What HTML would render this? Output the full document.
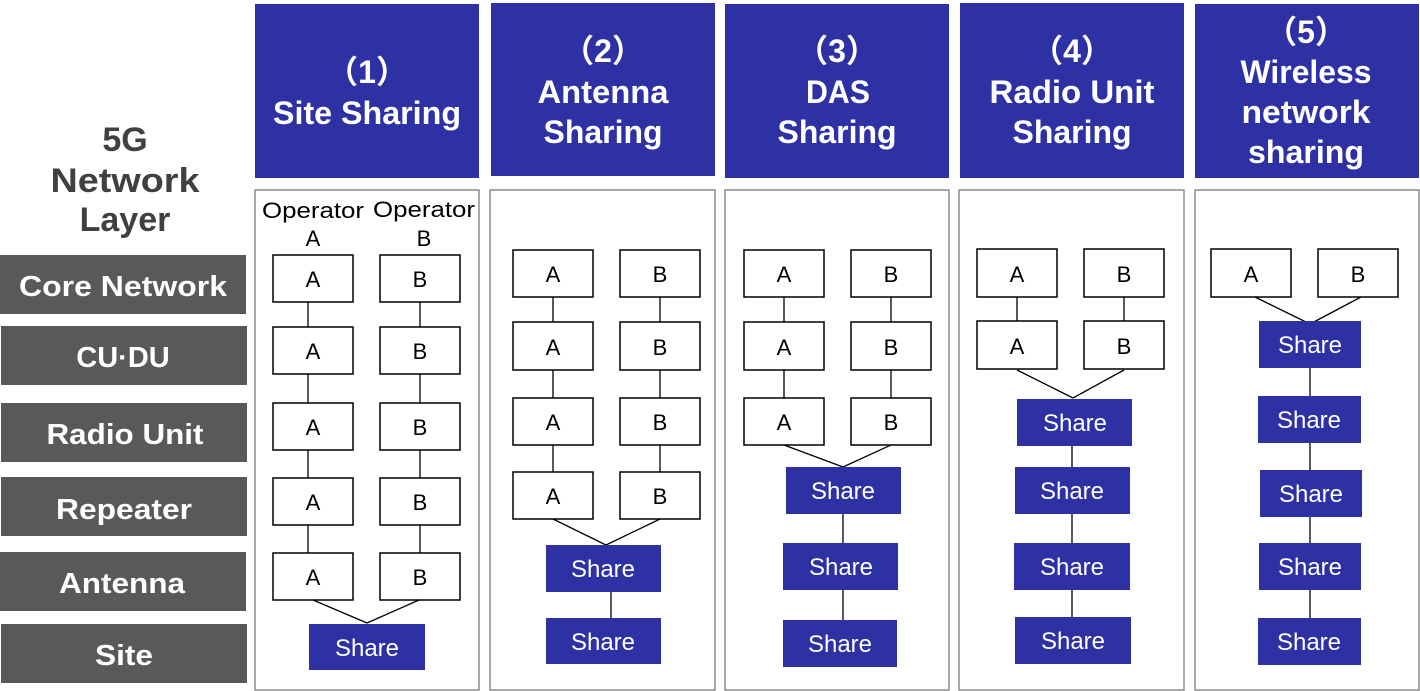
<!DOCTYPE html>
<html><head><meta charset="utf-8"><style>
html,body{margin:0;padding:0;background:#fff;width:1420px;height:691px;overflow:hidden}
svg{display:block}
.h{font-family:"Liberation Sans","Noto Sans CJK JP",sans-serif;font-weight:bold;fill:#fff;font-size:32px;text-anchor:middle}
.l{font-family:"Liberation Sans",sans-serif;font-weight:bold;fill:#fff;font-size:29px;text-anchor:middle}
.t{font-family:"Liberation Sans",sans-serif;fill:#000;font-size:22px;text-anchor:middle}
.s{font-family:"Liberation Sans",sans-serif;fill:#fff;font-size:24px;text-anchor:middle}
.b{fill:#fff;stroke:#000;stroke-width:1.5}
.sh{fill:#2E31A4}
.p{fill:#fff;stroke:#8c8c8c;stroke-width:1.5}
line{stroke:#000;stroke-width:1.3}
</style></head><body>
<svg width="1420" height="691" viewBox="0 0 1420 691" xmlns="http://www.w3.org/2000/svg">
<g font-family="Liberation Sans, sans-serif" font-weight="bold" font-size="34" fill="#404040" text-anchor="middle">
<text x="125" y="151">5G</text><text x="125" y="192" textLength="149" lengthAdjust="spacingAndGlyphs">Network</text><text x="125" y="231">Layer</text>
</g>
<g fill="#595959">
<rect x="0" y="255" width="246" height="59"/><rect x="1" y="326" width="246" height="59"/>
<rect x="1" y="403" width="246" height="59"/><rect x="1" y="477" width="246" height="59"/>
<rect x="0" y="552" width="246" height="59"/><rect x="1" y="624" width="246" height="59"/>
</g>
<text class="l" x="123" y="296" textLength="208" lengthAdjust="spacingAndGlyphs">Core Network</text>
<text class="l" x="123" y="367">CU·DU</text>
<text class="l" x="125" y="444" textLength="157" lengthAdjust="spacingAndGlyphs">Radio Unit</text>
<text class="l" x="124" y="519" textLength="136" lengthAdjust="spacingAndGlyphs">Repeater</text>
<text class="l" x="122" y="593" textLength="126" lengthAdjust="spacingAndGlyphs">Antenna</text>
<text class="l" x="124" y="665" textLength="58" lengthAdjust="spacingAndGlyphs">Site</text>

<g class="sh">
<rect x="255" y="4" width="224" height="174"/><rect x="491" y="3" width="224" height="173"/>
<rect x="725" y="4" width="224" height="174"/><rect x="960" y="3" width="224" height="175"/>
<rect x="1195" y="4" width="224" height="174"/>
</g>
<text class="h" x="367" y="83">（1）</text><text class="h" x="367" y="124" textLength="188" lengthAdjust="spacingAndGlyphs">Site Sharing</text>
<text class="h" x="603" y="62">（2）</text><text class="h" x="603" y="103" textLength="131" lengthAdjust="spacingAndGlyphs">Antenna</text><text class="h" x="603" y="143" textLength="119" lengthAdjust="spacingAndGlyphs">Sharing</text>
<text class="h" x="837" y="62">（3）</text><text class="h" x="838" y="103" textLength="64" lengthAdjust="spacingAndGlyphs">DAS</text><text class="h" x="837" y="143" textLength="119" lengthAdjust="spacingAndGlyphs">Sharing</text>
<text class="h" x="1072" y="62">（4）</text><text class="h" x="1072" y="103" textLength="165" lengthAdjust="spacingAndGlyphs">Radio Unit</text><text class="h" x="1072" y="143" textLength="119" lengthAdjust="spacingAndGlyphs">Sharing</text>
<text class="h" x="1306" y="43">（5）</text><text class="h" x="1306" y="83" textLength="131" lengthAdjust="spacingAndGlyphs">Wireless</text><text class="h" x="1306" y="123" textLength="129" lengthAdjust="spacingAndGlyphs">network</text><text class="h" x="1306" y="163" textLength="116" lengthAdjust="spacingAndGlyphs">sharing</text>

<rect class="p" x="255" y="190" width="224" height="500"/>
<rect class="p" x="490" y="190" width="225" height="500"/>
<rect class="p" x="725" y="190" width="224" height="500"/>
<rect class="p" x="959" y="190" width="225" height="500"/>
<rect class="p" x="1195" y="190" width="224" height="500"/>

<!-- panel 1 -->
<text class="t" x="313" y="218" textLength="102" lengthAdjust="spacingAndGlyphs">Operator</text><text class="t" x="313" y="246">A</text>
<text class="t" x="424" y="217" textLength="102" lengthAdjust="spacingAndGlyphs">Operator</text><text class="t" x="424" y="246">B</text>
<line x1="308" y1="302" x2="308" y2="555"/><line x1="420" y1="302" x2="420" y2="555"/>
<g class="b">
<rect x="273" y="255" width="80" height="47"/><rect x="380" y="255" width="80" height="47"/>
<rect x="273" y="327" width="80" height="47"/><rect x="380" y="327" width="80" height="47"/>
<rect x="273" y="403" width="80" height="47"/><rect x="380" y="403" width="80" height="47"/>
<rect x="273" y="478" width="80" height="47"/><rect x="380" y="478" width="80" height="47"/>
<rect x="273" y="553" width="80" height="47"/><rect x="380" y="553" width="80" height="47"/>
</g>
<g class="t">
<text x="313" y="287">A</text><text x="420" y="287">B</text>
<text x="313" y="359">A</text><text x="420" y="359">B</text>
<text x="313" y="435">A</text><text x="420" y="435">B</text>
<text x="313" y="510">A</text><text x="420" y="510">B</text>
<text x="313" y="585">A</text><text x="420" y="585">B</text>
</g>
<line x1="313" y1="600" x2="367" y2="623"/><line x1="419" y1="600" x2="367" y2="623"/>
<rect class="sh" x="309" y="624" width="116" height="46"/><text class="s" x="367" y="656">Share</text>

<!-- panel 2 -->
<line x1="553" y1="297" x2="553" y2="473"/><line x1="660" y1="297" x2="660" y2="473"/>
<g class="b">
<rect x="513" y="250" width="80" height="47"/><rect x="620" y="250" width="80" height="47"/>
<rect x="513" y="322" width="80" height="48"/><rect x="620" y="322" width="80" height="48"/>
<rect x="513" y="398" width="80" height="47"/><rect x="620" y="398" width="80" height="47"/>
<rect x="513" y="472" width="80" height="47"/><rect x="620" y="472" width="80" height="47"/>
</g>
<g class="t">
<text x="553" y="282">A</text><text x="660" y="282">B</text>
<text x="553" y="355">A</text><text x="660" y="355">B</text>
<text x="553" y="430">A</text><text x="660" y="430">B</text>
<text x="553" y="504">A</text><text x="660" y="504">B</text>
</g>
<line x1="553" y1="519" x2="606" y2="545"/><line x1="660" y1="519" x2="606" y2="545"/>
<line x1="611" y1="592" x2="611" y2="618"/>
<rect class="sh" x="546" y="545" width="115" height="47"/><text class="s" x="603" y="577">Share</text>
<rect class="sh" x="546" y="618" width="115" height="46"/><text class="s" x="603" y="650">Share</text>

<!-- panel 3 -->
<line x1="784" y1="297" x2="784" y2="399"/><line x1="891" y1="297" x2="891" y2="399"/>
<g class="b">
<rect x="744" y="250" width="80" height="47"/><rect x="851" y="250" width="80" height="47"/>
<rect x="744" y="322" width="80" height="48"/><rect x="851" y="322" width="80" height="48"/>
<rect x="744" y="398" width="80" height="47"/><rect x="851" y="398" width="80" height="47"/>
</g>
<g class="t">
<text x="784" y="282">A</text><text x="891" y="282">B</text>
<text x="784" y="355">A</text><text x="891" y="355">B</text>
<text x="784" y="430">A</text><text x="891" y="430">B</text>
</g>
<line x1="784" y1="445" x2="843" y2="467"/><line x1="891" y1="445" x2="843" y2="467"/>
<line x1="843" y1="514" x2="843" y2="620"/>
<rect class="sh" x="786" y="467" width="115" height="47"/><text class="s" x="843" y="499">Share</text>
<rect class="sh" x="783" y="543" width="115" height="47"/><text class="s" x="841" y="575">Share</text>
<rect class="sh" x="783" y="620" width="114" height="47"/><text class="s" x="840" y="652">Share</text>

<!-- panel 4 -->
<line x1="1017" y1="297" x2="1017" y2="322"/><line x1="1124" y1="297" x2="1124" y2="322"/>
<g class="b">
<rect x="977" y="249" width="80" height="48"/><rect x="1084" y="249" width="80" height="48"/>
<rect x="977" y="321" width="80" height="48"/><rect x="1084" y="321" width="80" height="48"/>
</g>
<g class="t">
<text x="1017" y="282">A</text><text x="1124" y="282">B</text>
<text x="1017" y="354">A</text><text x="1124" y="354">B</text>
</g>
<line x1="1017" y1="370" x2="1073" y2="398"/><line x1="1124" y1="370" x2="1073" y2="398"/>
<line x1="1072" y1="446" x2="1072" y2="617"/>
<rect class="sh" x="1017" y="399" width="115" height="47"/><text class="s" x="1075" y="431">Share</text>
<rect class="sh" x="1015" y="467" width="115" height="47"/><text class="s" x="1072" y="499">Share</text>
<rect class="sh" x="1014" y="543" width="116" height="47"/><text class="s" x="1072" y="575">Share</text>
<rect class="sh" x="1015" y="617" width="116" height="47"/><text class="s" x="1073" y="649">Share</text>

<!-- panel 5 -->
<g class="b">
<rect x="1211" y="249" width="80" height="48"/><rect x="1318" y="249" width="80" height="48"/>
</g>
<g class="t"><text x="1251" y="282">A</text><text x="1358" y="282">B</text></g>
<line x1="1255" y1="297" x2="1310" y2="324"/><line x1="1361" y1="297" x2="1310" y2="324"/>
<line x1="1310" y1="368" x2="1310" y2="618"/>
<rect class="sh" x="1259" y="321" width="102" height="47"/><text class="s" x="1310" y="353">Share</text>
<rect class="sh" x="1258" y="396" width="103" height="47"/><text class="s" x="1309" y="428">Share</text>
<rect class="sh" x="1260" y="470" width="102" height="47"/><text class="s" x="1311" y="502">Share</text>
<rect class="sh" x="1259" y="543" width="102" height="47"/><text class="s" x="1310" y="575">Share</text>
<rect class="sh" x="1258" y="618" width="103" height="47"/><text class="s" x="1309" y="650">Share</text>
</svg>
</body></html>
